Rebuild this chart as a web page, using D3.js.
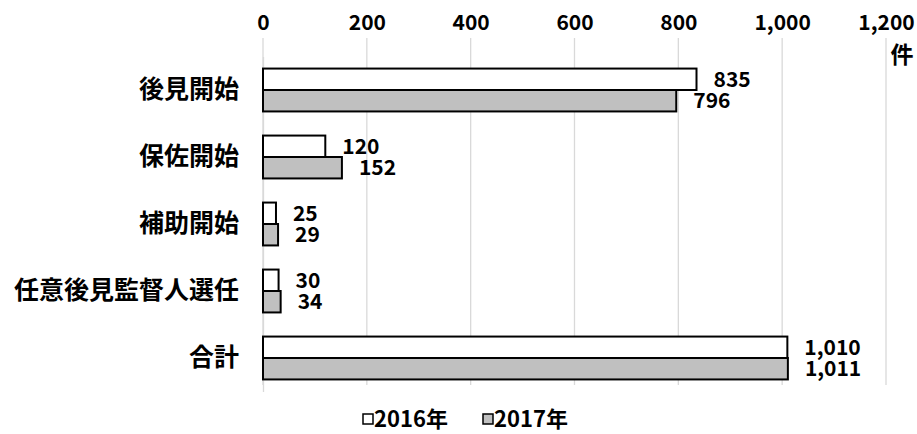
<!DOCTYPE html>
<html><head><meta charset="utf-8">
<script src="https://cdn.jsdelivr.net/npm/d3@7"></script>
<style>body{margin:0;background:#fff}svg{display:block}</style>
</head><body><svg id="c" width="917" height="434"></svg>
<script>
const categories = ["後見開始","保佐開始","補助開始","任意後見監督人選任","合計"];
const series2016 = [835,120,25,30,1010];
const series2017 = [796,152,29,34,1011];
const seriesNames = ["2016年","2017年"];
const tickValues = [0,200,400,600,800,1000,1200];
const unitLabel = "件";

const svg = d3.select("#c");
const font = "'Noto Sans CJK JP', 'Noto Sans', sans-serif";
const x = d3.scaleLinear().domain([0,1200]).range([263,886]);
const y = d3.scaleBand().domain(categories).range([56.5,391.5]).paddingInner(0.36).paddingOuter(0.18);
const sub = d3.scaleBand().domain(seriesNames).range([0,y.bandwidth()]);
const fills = ["#ffffff","#c0c0c0"];
const data = [series2016, series2017];

// gridlines
svg.append("g").selectAll("line").data(tickValues).join("line")
  .attr("x1",d=>x(d)).attr("x2",d=>x(d)).attr("y1",38).attr("y2",385)
  .attr("stroke","#d9d9d9").attr("stroke-width",1.3);

// top axis labels
const ax = svg.append("g").attr("transform","translate(0,33)")
  .call(d3.axisTop(x).tickValues(tickValues).tickSize(0).tickFormat(d3.format(",")));
ax.select(".domain").remove();
ax.selectAll("text").attr("font-family",font).attr("font-weight","bold").attr("font-size",21).attr("fill","#000");

svg.append("text").attr("x",902).attr("y",55).attr("dy","0.36em").attr("text-anchor","middle")
  .attr("font-family",font).attr("font-weight","bold").attr("font-size",23).text(unitLabel);

// category axis
const ay = svg.append("g").attr("transform","translate(263,0)")
  .call(d3.axisLeft(y).tickSize(0).tickPadding(24));
ay.select(".domain").attr("stroke","#d9d9d9").attr("stroke-width",1.3);
ay.selectAll("text").attr("font-family",font).attr("font-weight","bold").attr("font-size",25).attr("fill","#000");

// bars
data.forEach((vals,si)=>{
  const g = svg.append("g");
  g.selectAll("rect").data(vals).join("rect")
    .attr("x",x(0)).attr("y",(d,i)=>y(categories[i])+sub(seriesNames[si]))
    .attr("width",d=>x(d)-x(0)).attr("height",sub.bandwidth())
    .attr("fill",fills[si]).attr("stroke","#000").attr("stroke-width",2);
  g.selectAll("text").data(vals).join("text")
    .attr("x",d=>x(d)+17).attr("y",(d,i)=>y(categories[i])+sub(seriesNames[si])+sub.bandwidth()/2)
    .attr("dy","0.36em").attr("font-family",font).attr("font-weight","bold").attr("font-size",21)
    .text(d=>d3.format(",")(d));
});

// legend
const lg = svg.append("g");
const lx = [363, 483];
seriesNames.forEach((n,i)=>{
  lg.append("rect").attr("x",lx[i]).attr("y",414).attr("width",10).attr("height",10)
    .attr("fill",fills[i]).attr("stroke","#000").attr("stroke-width",1.5);
  lg.append("text").attr("x",lx[i]+11).attr("y",419).attr("dy","0.36em")
    .attr("font-family",font).attr("font-weight","bold").attr("font-size",22).text(n);
});
</script></body></html>
